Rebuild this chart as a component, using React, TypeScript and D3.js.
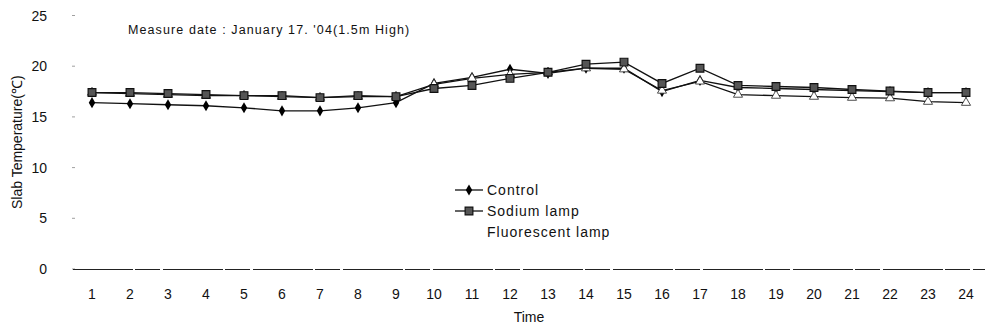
import React from "react";
import * as d3 from "d3";

// hours on the x axis
const hours = [1, 2, 3, 4, 5, 6, 7, 8, 9, 10, 11, 12, 13, 14, 15, 16, 17, 18, 19, 20, 21, 22, 23, 24];
const yTicks = [0, 5, 10, 15, 20, 25];

// slab temperature (°C)
const control = [16.4, 16.3, 16.2, 16.1, 15.9, 15.6, 15.6, 15.9, 16.4, 18.3, 18.9, 19.7, 19.3, 19.8, 19.8, 17.5, 18.6, 17.9, 17.8, 17.7, 17.6, 17.5, 17.4, 17.4];
const sodium = [17.4, 17.4, 17.3, 17.2, 17.1, 17.1, 16.9, 17.1, 17.0, 17.8, 18.1, 18.8, 19.4, 20.2, 20.4, 18.3, 19.8, 18.1, 18.0, 17.9, 17.7, 17.55, 17.4, 17.4];
const fluorescent = [17.4, 17.3, 17.2, 17.1, 17.1, 17.0, 16.9, 17.0, 17.0, 18.2, 18.8, 19.2, 19.4, 19.8, 19.7, 17.6, 18.5, 17.2, 17.1, 17.0, 16.9, 16.85, 16.5, 16.4];

const W = 986;
const H = 331;
const font = "'Liberation Sans', Arial, sans-serif";

export default function App() {
  const x = d3.scaleBand<number>().domain(hours).range([73, 985]);
  const cx = (h: number) => (x(h) as number) + x.bandwidth() / 2;
  const y = d3.scaleLinear().domain([0, 25]).range([269, 15.5]);

  const line = d3
    .line<number>()
    .x((_, i) => cx(hours[i]))
    .y((d) => y(d));

  const diamond = d3.symbol(d3.symbolDiamond, 36)() as string;
  const triangle = d3.symbol(d3.symbolTriangle, 36)() as string;
  const square = d3.symbol(d3.symbolSquare, 60)() as string;

  const legendX = 455;
  const legendY = [190, 211, 232];

  return (
    <svg width={W} height={H} style={{ position: "absolute", left: 0, top: 0, background: "#fff" }} fontFamily={font}>
      {/* title */}
      <text x={128} y={34} fontSize={12.5} letterSpacing={1.1} fill="#111">
        Measure date : January 17. '04(1.5m High)
      </text>

      {/* y axis ticks and labels */}
      {yTicks.map((t) => (
        <g key={t}>
          <line x1={72} x2={75} y1={y(t)} y2={y(t)} stroke="#777" strokeWidth={0.7} />
          <text x={47} y={y(t) + 5} fontSize={14} textAnchor="end" fill="#111">
            {t}
          </text>
        </g>
      ))}
      <text
        transform={`translate(22,${y(12.5)}) rotate(-90)`}
        fontSize={14}
        textAnchor="middle"
        fill="#111"
      >
        Slab Temperature(℃)
      </text>

      {/* x axis */}
      <line
        x1={73}
        x2={985}
        y1={y(0) + 0.5}
        y2={y(0) + 0.5}
        stroke="#222"
        strokeWidth={1}
        strokeDasharray="60 2 25 3"
        shapeRendering="crispEdges"
      />
      {hours.map((h) => (
        <text key={h} x={cx(h)} y={299} fontSize={14} textAnchor="middle" fill="#111">
          {h}
        </text>
      ))}
      <text x={(cx(12) + cx(13)) / 2} y={322} fontSize={14} textAnchor="middle" fill="#111">
        Time
      </text>

      {/* series lines */}
      <path d={line(control) as string} fill="none" stroke="#111" strokeWidth={1.3} />
      <path d={line(fluorescent) as string} fill="none" stroke="#111" strokeWidth={1.3} />
      <path d={line(sodium) as string} fill="none" stroke="#111" strokeWidth={1.3} />

      {/* markers */}
      {control.map((v, i) => (
        <path key={"c" + i} d={diamond} transform={`translate(${cx(hours[i])},${y(v)})`} fill="#000" />
      ))}
      {fluorescent.map((v, i) => (
        <path key={"f" + i} d={triangle} transform={`translate(${cx(hours[i])},${y(v)})`} fill="#fff" stroke="#222" strokeWidth={0.8} />
      ))}
      {sodium.map((v, i) => (
        <path key={"s" + i} d={square} transform={`translate(${cx(hours[i])},${y(v)})`} fill="#555" stroke="#111" strokeWidth={1.2} />
      ))}

      {/* legend */}
      <line x1={legendX} x2={legendX + 28} y1={legendY[0]} y2={legendY[0]} stroke="#111" strokeWidth={1.3} />
      <path d={diamond} transform={`translate(${legendX + 14},${legendY[0]})`} fill="#000" />
      <line x1={legendX} x2={legendX + 28} y1={legendY[1]} y2={legendY[1]} stroke="#111" strokeWidth={1.3} />
      <path d={square} transform={`translate(${legendX + 14},${legendY[1]})`} fill="#555" stroke="#111" strokeWidth={1.2} />
      {["Control", "Sodium lamp", "Fluorescent lamp"].map((s, i) => (
        <text key={s} x={legendX + 32} y={legendY[i] + 5} fontSize={14} letterSpacing={1} fill="#111">
          {s}
        </text>
      ))}
    </svg>
  );
}
